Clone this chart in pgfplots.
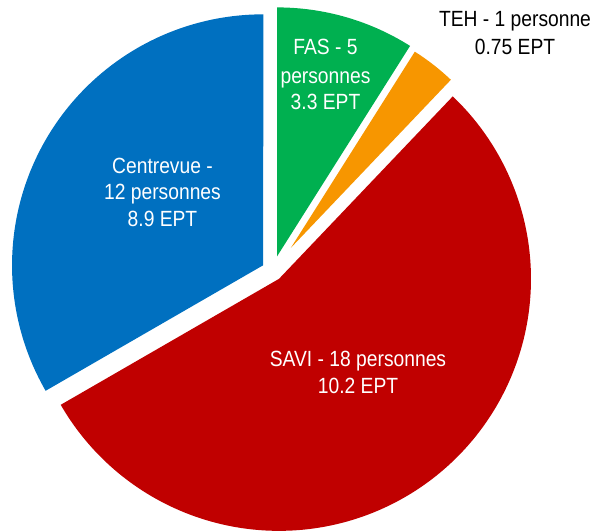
\documentclass[border=0pt]{standalone}
\usepackage{pgfplots}
\pgfplotsset{compat=1.18}
\usepackage{pgfplotstable}
\usepackage{fontspec}
\setmainfont{Liberation Sans}

\definecolor{cfas}{RGB}{0,176,80}
\definecolor{cteh}{RGB}{247,150,0}
\definecolor{csavi}{RGB}{192,0,0}
\definecolor{ccv}{RGB}{0,112,192}

% share of each slice (percent), explosion distance and radius (pt)
\pgfplotstableread{
name value explode radius
FAS 8.97 15.2 249
TEH 3.14 29.4 232
SAVI 54.56 10.0 252
Centrevue 33.36 11.3 251
}\slices

\def\cx{272.8}\def\cy{260}
\def\curangle{90}
\newcommand\getslice[2]{%
  \pgfplotstablegetelem{#1}{value}\of\slices\pgfmathsetmacro\tmpv{\pgfplotsretval}%
  \pgfplotstablegetelem{#1}{explode}\of\slices\pgfmathsetmacro\tmpe{\pgfplotsretval}%
  \pgfplotstablegetelem{#1}{radius}\of\slices\pgfmathsetmacro\tmpr{\pgfplotsretval}%
  \pgfmathsetmacro\tmpend{\curangle - 3.6*\tmpv}%
  \pgfmathsetmacro\tmpmid{(\curangle + \tmpend)/2}%
  \pgfmathsetmacro\tmpx{\cx + \tmpe*cos(\tmpmid)}%
  \pgfmathsetmacro\tmpy{\cy + \tmpe*sin(\tmpmid)}%
  \expandafter\xdef\csname #2start\endcsname{\tmpend}%
  \expandafter\xdef\csname #2end\endcsname{\curangle}%
  \expandafter\xdef\csname #2x\endcsname{\tmpx}%
  \expandafter\xdef\csname #2y\endcsname{\tmpy}%
  \expandafter\xdef\csname #2r\endcsname{\tmpr}%
  \xdef\curangle{\tmpend}%
}
\getslice{0}{A}
\getslice{1}{B}
\getslice{2}{C}
\getslice{3}{D}

\tikzset{lbl/.style={anchor=base, inner sep=0pt, xscale=0.875, transform shape,
  font=\fontsize{22}{26}\selectfont}}

\begin{document}
\begin{tikzpicture}
\begin{axis}[scale only axis, width=596pt, height=531pt,
  xmin=0, xmax=596, ymin=0, ymax=531, hide axis, clip=false]
\draw[draw=none] (axis cs:0,0) rectangle (axis cs:596,531);
\addplot[fill=cfas, draw=none, domain=\Astart:\Aend, samples=60]
  ({\Ax + \Ar*cos(x)}, {\Ay + \Ar*sin(x)}) -- (axis cs:\Ax,\Ay) -- cycle;
\addplot[fill=cteh, draw=none, domain=\Bstart:\Bend, samples=20]
  ({\Bx + \Br*cos(x)}, {\By + \Br*sin(x)}) -- (axis cs:\Bx,\By) -- cycle;
\addplot[fill=csavi, draw=none, domain=\Cstart:\Cend, samples=200]
  ({\Cx + \Cr*cos(x)}, {\Cy + \Cr*sin(x)}) -- (axis cs:\Cx,\Cy) -- cycle;
\addplot[fill=ccv, draw=none, domain=\Dstart:\Dend, samples=140]
  ({\Dx + \Dr*cos(x)}, {\Dy + \Dr*sin(x)}) -- (axis cs:\Dx,\Dy) -- cycle;

% labels (baselines)
\node[lbl, text=white] at (axis cs:325.5,476) {FAS - 5};
\node[lbl, text=white] at (axis cs:325.5,447.7) {personnes};
\node[lbl, text=white] at (axis cs:325.5,421) {3.3 EPT};

\node[lbl, text=black] at (axis cs:515,504.3) {TEH - 1 personne};
\node[lbl, text=black] at (axis cs:515,476) {0.75 EPT};

\node[lbl, text=white] at (axis cs:358,164.3) {SAVI - 18 personnes};
\node[lbl, text=white] at (axis cs:358,137.7) {10.2 EPT};

\node[lbl, text=white] at (axis cs:162.5,358) {Centrevue -};
\node[lbl, text=white] at (axis cs:162.5,331.3) {12 personnes};
\node[lbl, text=white] at (axis cs:162.5,304.6) {8.9 EPT};
\end{axis}
\end{tikzpicture}
\end{document}
